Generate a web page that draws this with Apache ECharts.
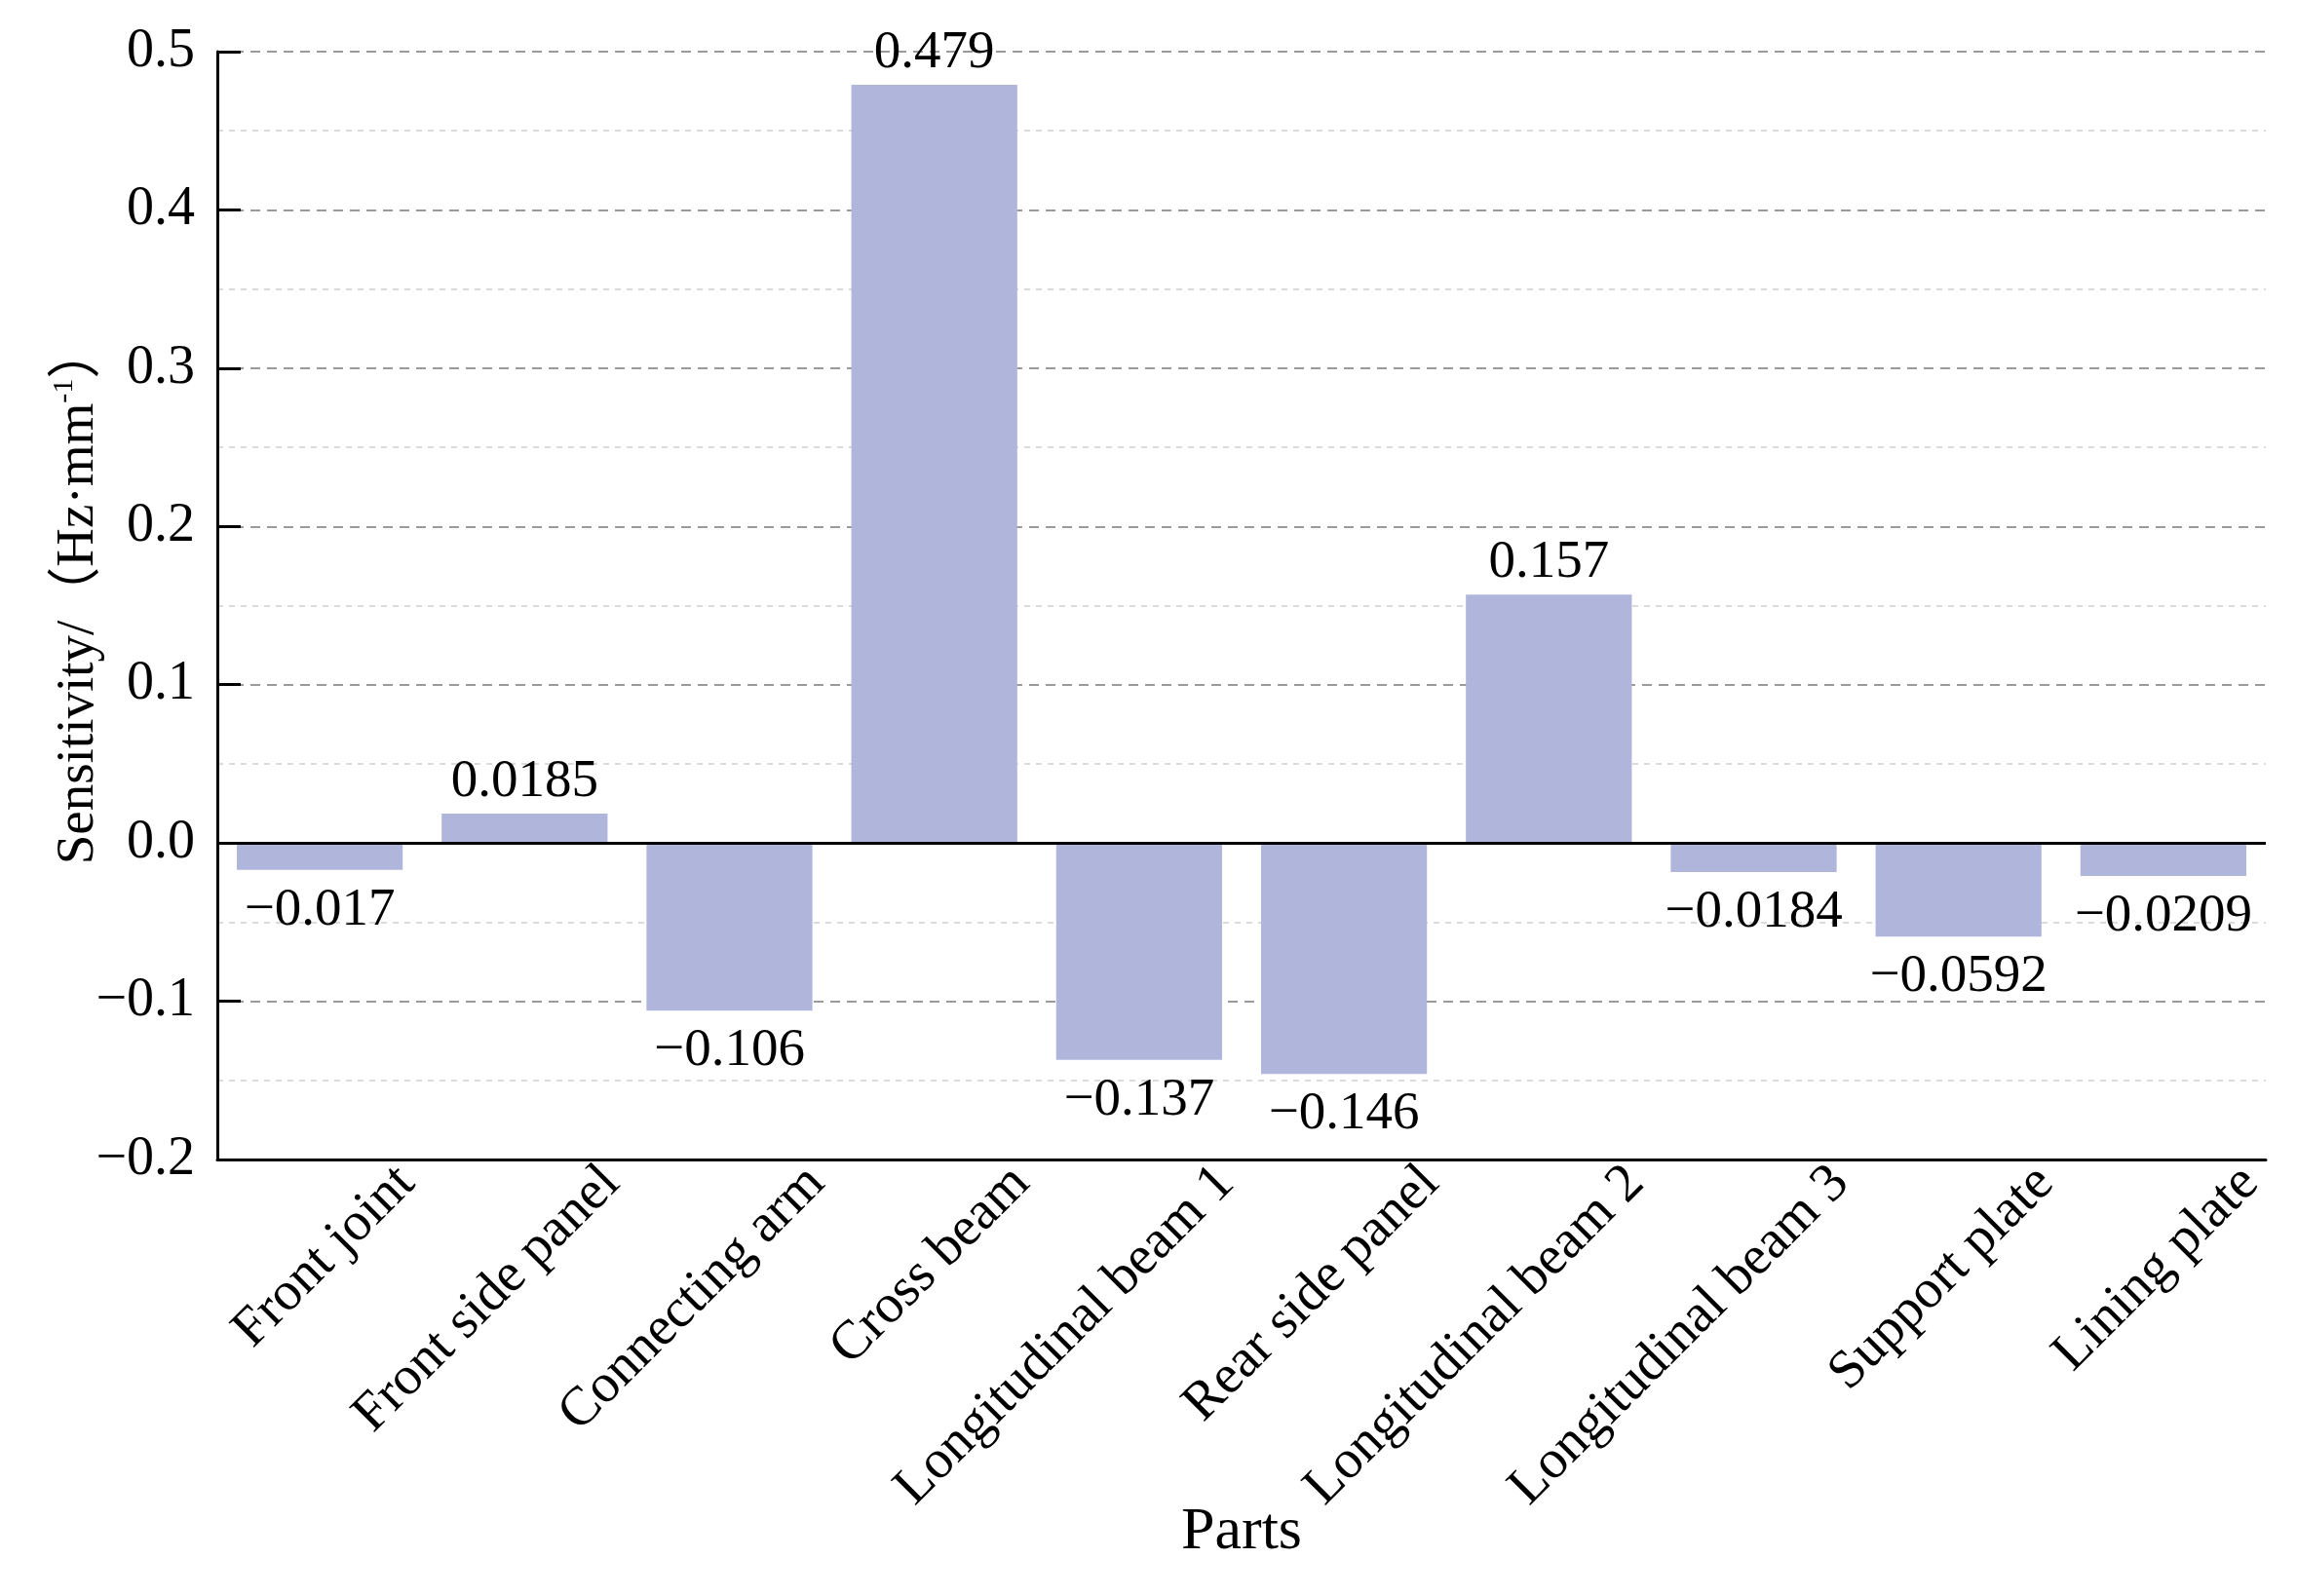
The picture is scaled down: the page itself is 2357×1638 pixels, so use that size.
<!DOCTYPE html>
<html>
<head>
<meta charset="utf-8">
<script src="https://cdn.jsdelivr.net/npm/echarts@6/dist/echarts.min.js"></script>
<style>
html,body{margin:0;padding:0;background:#fff;}
#chart{width:2357px;height:1638px;}
</style>
</head>
<body>
<div id="chart"></div>
<script>
const categories = ['Front joint', 'Front side panel', 'Connecting arm', 'Cross beam', 'Longitudinal beam 1', 'Rear side panel', 'Longitudinal beam 2', 'Longitudinal beam 3', 'Support plate', 'Lining plate'];
const values = [-0.017, 0.0185, -0.106, 0.479, -0.137, -0.146, 0.157, -0.0184, -0.0592, -0.0209];
const valueLabels = ['\u22120.017', '0.0185', '\u22120.106', '0.479', '\u22120.137', '\u22120.146', '0.157', '\u22120.0184', '\u22120.0592', '\u22120.0209'];
const yTickValues = [-0.2, -0.1, 0.0, 0.1, 0.2, 0.3, 0.4, 0.5];
const yTickLabels = ['\u22120.2', '\u22120.1', '0.0', '0.1', '0.2', '0.3', '0.4', '0.5'];
const xName = 'Parts';
const yNameMain = 'Sensitivity/\uFF08Hz\u00B7mm';
const yNameSup = '-1';
const yNameEnd = '\uFF09';

const FONT = '"Liberation Serif", "Times New Roman", "Noto Sans CJK SC", serif';
const chart = echarts.init(document.getElementById('chart'), null, {renderer: 'canvas'});

const seriesData = values.map((v, i) => ({
  value: v,
  label: {position: v < 0 ? 'bottom' : 'top', distance: v < 0 ? 14 : 5, formatter: valueLabels[i]}
}));

const option = {
  backgroundColor: '#ffffff',
  animation: false,
  grid: {left: 223, right: 32, top: 53, bottom: 448, containLabel: false},
  xAxis: {
    type: 'category',
    data: categories,
    name: xName,
    nameLocation: 'middle',
    nameGap: 352,
    nameMoveOverlap: false,
    nameTextStyle: {fontFamily: FONT, fontSize: 62, color: '#000'},
    axisLine: {show: true, onZero: false, lineStyle: {color: '#000', width: 3}},
    axisTick: {show: false},
    axisLabel: {
      interval: 0,
      rotate: 45,
      margin: 105,
      fontFamily: FONT,
      fontSize: 56,
      color: '#000',
      padding: [0, -126, 0, 0]
    },
    splitLine: {show: false}
  },
  yAxis: {
    type: 'value',
    min: -0.2,
    max: 0.5,
    interval: 0.1,
    name: yNameMain + '{sup|' + yNameSup + '}' + yNameEnd,
    nameLocation: 'middle',
    nameGap: 112,
    nameMoveOverlap: false,
    nameTextStyle: {
      fontFamily: FONT, fontSize: 55, color: '#000',
      padding: [0, 0, 0, 22],
      rich: {sup: {fontFamily: FONT, fontSize: 30, color: '#000', verticalAlign: 'top', padding: [0, 0, 30, 0]}}
    },
    axisLine: {show: true, lineStyle: {color: '#000', width: 3}},
    axisTick: {show: true, inside: true, length: 24, lineStyle: {color: '#000', width: 3}},
    axisLabel: {
      margin: 23,
      fontFamily: FONT,
      fontSize: 56,
      color: '#000',
      formatter: function (v) {
        const idx = yTickValues.findIndex(t => Math.abs(t - v) < 1e-9);
        return idx >= 0 ? yTickLabels[idx] : '';
      }
    },
    splitLine: {show: true, lineStyle: {color: '#9a9a9a', width: 2, type: [10, 7]}},
    minorTick: {show: false, splitNumber: 2},
    minorSplitLine: {show: true, lineStyle: {color: '#d0d0d0', width: 1.5, type: [6, 6]}}
  },
  series: [{
    type: 'bar',
    data: seriesData,
    barCategoryGap: '19%',
    itemStyle: {color: '#b0b5dc'},
    label: {show: true, fontFamily: FONT, fontSize: 55, color: '#000'},
    markLine: {
      silent: true,
      symbol: 'none',
      label: {show: false},
      lineStyle: {color: '#000', width: 3, type: 'solid'},
      data: [{yAxis: 0}]
    }
  }]
};
chart.setOption(option);
</script>
</body>
</html>
